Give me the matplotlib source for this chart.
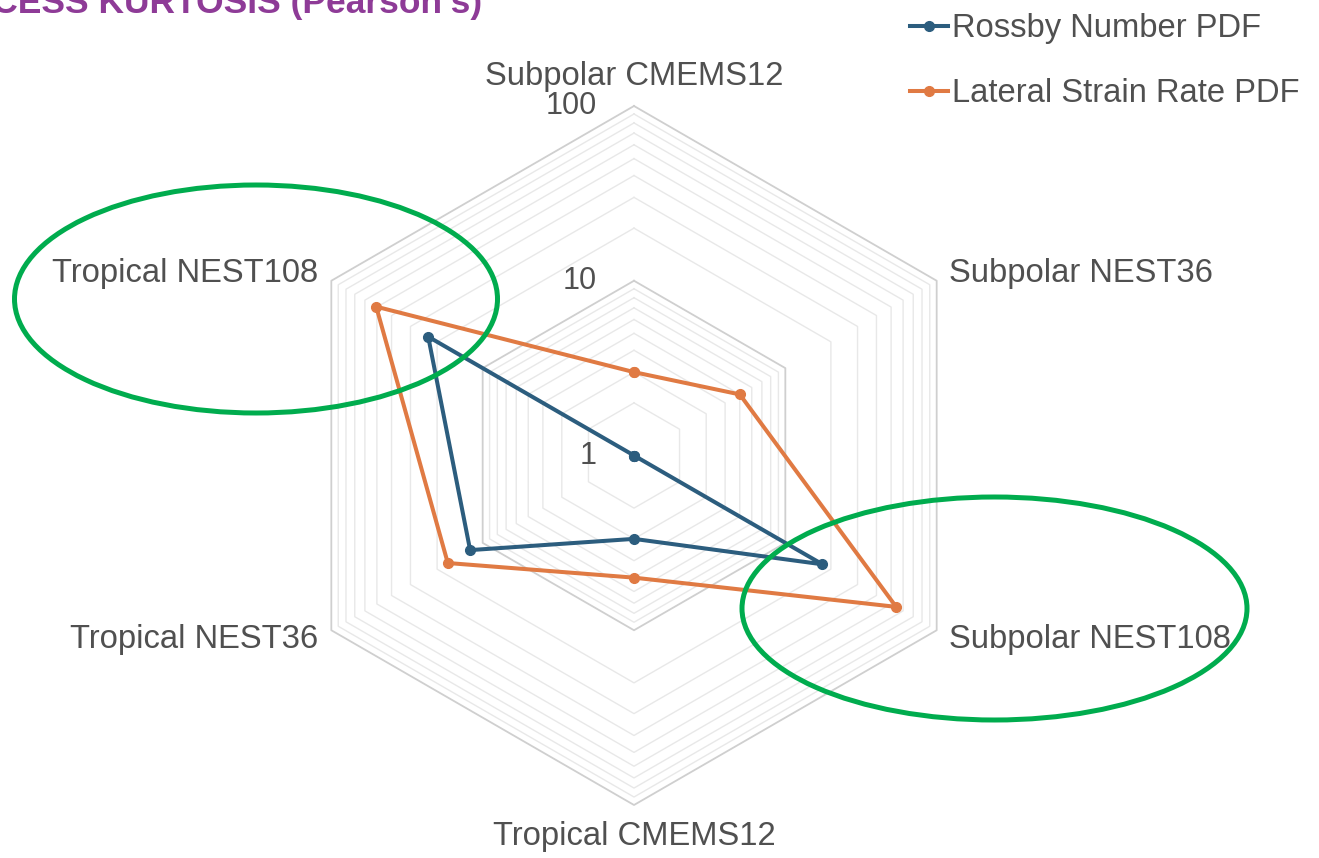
import numpy as np
import matplotlib
matplotlib.use('Agg')
import matplotlib.pyplot as plt
from matplotlib.patches import Ellipse
from matplotlib.ticker import NullLocator

plt.rcParams['font.family'] = ['Liberation Sans', 'DejaVu Sans']

# data
categories = ['Subpolar CMEMS12', 'Subpolar NEST36', 'Subpolar NEST108',
              'Tropical CMEMS12', 'Tropical NEST36', 'Tropical NEST108']
rossby = [1.0, 1.0, 17.6, 3.0, 12.1, 22.9]
strain = [3.0, 5.0, 54.0, 5.0, 17.0, 50.5]
series_names = ['Rossby Number PDF', 'Lateral Strain Rate PDF']
series_colors = ['#2c5d7e', '#e07a43']
radial_ticks = [1, 10, 100]
title = "EXCESS KURTOSIS (Pearson's)"

W, H = 1319, 858
fig = plt.figure(figsize=(W / 100, H / 100), dpi=100)

# polar axes, centre at (634, 455.5) px, radius 349.5 px
cx, cy, R = 634, 455.5, 349.5
ax = fig.add_axes([(cx - R) / W, (H - cy - R) / H, 2 * R / W, 2 * R / H],
                  projection='polar')
ax.set_theta_offset(np.pi / 2)
ax.set_theta_direction(-1)
ax.set_rscale('log')
ax.set_rlim(radial_ticks[0], radial_ticks[-1])
ax.grid(False)
ax.spines['polar'].set_visible(False)
ax.set_xticks([])
ax.set_yticks([])
ax.yaxis.set_minor_locator(NullLocator())
ax.patch.set_alpha(0)

n = len(categories)
angles = np.arange(n) * 2 * np.pi / n
closed = np.append(angles, angles[0])

text_col = '#505050'
fs = 23.6

# hexagonal grid (log minors)
for dec in radial_ticks[:-1]:
    for k in range(2, 11):
        v = dec * k
        major = v in radial_ticks
        ax.plot(closed, [v] * (n + 1), color='#cfcfcf' if major else '#e8e8e8',
                lw=1.3 if major else 1.0, zorder=1, clip_on=False)

# series
for vals, name, col in zip([rossby, strain], series_names, series_colors):
    ax.plot(closed, np.append(vals, vals[0]), color=col, lw=2.9, marker='o',
            ms=7, label=name, zorder=3, clip_on=False)

# category labels
for a, lab in zip(angles, categories):
    s, c = np.sin(a), np.cos(a)
    if abs(s) < 0.1:
        ha, dx, dy = 'center', 0, 30 if c > 0 else -31
    else:
        ha = 'left' if s > 0 else 'right'
        dx = 12 if s > 0 else -13
        dy = 7 if c > 0 else -9
    ax.annotate(lab, xy=(a, radial_ticks[-1]), xytext=(dx, dy),
                textcoords='offset pixels', ha=ha, va='center',
                fontsize=fs, color=text_col, annotation_clip=False)

# radial tick labels
for v in radial_ticks:
    ax.annotate(str(v), xy=(0, v), xytext=(-37, 0), textcoords='offset pixels',
                ha='right', va='center', fontsize=22, color=text_col,
                annotation_clip=False)

# title (cut off at the left edge like the source)
fig.text(482 / W, 1 - 13 / H, title, ha='right', va='baseline',
         fontsize=25.5, fontweight='bold', color='#8e3b97')

# legend
fig.legend(loc='upper left', bbox_to_anchor=(910 / W, 1 - 13 / H),
           frameon=False, fontsize=fs, handlelength=1.16, handletextpad=0.12,
           labelspacing=1.04, borderpad=0, borderaxespad=0, labelcolor=text_col)

# green highlight ellipses
for (ex, ey, ew, eh) in [(256, 299, 483, 228), (994.5, 608.5, 505, 223)]:
    fig.add_artist(Ellipse((ex / W, 1 - ey / H), ew / W, eh / H,
                           transform=fig.transFigure, fill=False,
                           edgecolor='#00ac4e', lw=3.6, zorder=5))

fig.savefig('out.png', dpi=100, facecolor='white')
